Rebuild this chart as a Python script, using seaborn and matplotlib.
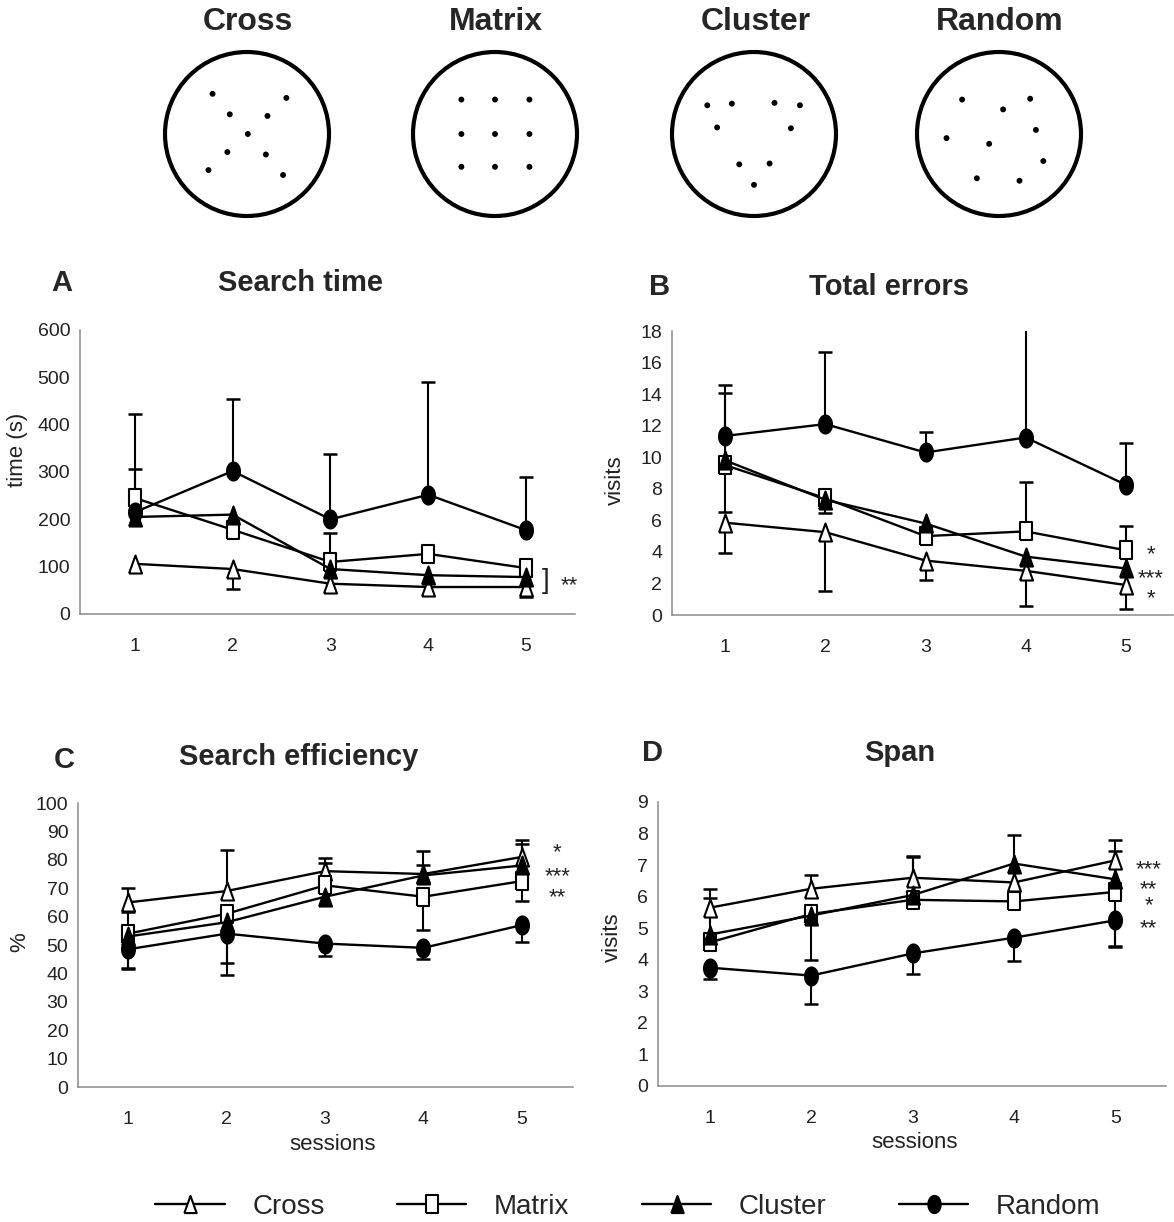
import numpy as np
import pandas as pd
import matplotlib
matplotlib.use("Agg")
import matplotlib.pyplot as plt
from matplotlib.patches import Circle
import seaborn as sns

sessions = [1, 2, 3, 4, 5]
groups = ["Cross", "Matrix", "Cluster", "Random"]

# search time (s): means, upper and lower error bars
time_mean = {"Cross": [106, 95, 64, 57, 57],
             "Matrix": [245, 178, 110, 127, 97],
             "Cluster": [205, 210, 95, 82, 78],
             "Random": [215, 302, 200, 252, 177]}
time_up = {"Cross": [0, 0, 0, 0, 0],
           "Matrix": [62, 0, 62, 0, 0],
           "Cluster": [0, 0, 0, 0, 0],
           "Random": [208, 153, 138, 238, 112]}
time_dn = {"Cross": [0, 42, 0, 0, 22],
           "Matrix": [0, 0, 0, 0, 0],
           "Cluster": [0, 0, 0, 0, 0],
           "Random": [0, 0, 0, 0, 0]}

# total errors (visits)
err_mean = {"Cross": [5.85, 5.25, 3.45, 2.8, 1.9],
            "Matrix": [9.5, 7.4, 5.0, 5.3, 4.1],
            "Cluster": [9.8, 7.3, 5.8, 3.7, 2.95],
            "Random": [11.35, 12.1, 10.3, 11.25, 8.25]}
err_up = {"Cross": [0, 0, 0, 0, 0],
          "Matrix": [0, 0, 0, 3.1, 1.55],
          "Cluster": [4.3, 0, 0, 0, 0],
          "Random": [3.25, 4.6, 1.3, 6.95, 2.65]}
err_dn = {"Cross": [1.95, 3.75, 1.25, 2.25, 1.55],
          "Matrix": [3.0, 0.95, 0, 0, 0],
          "Cluster": [0, 0, 0, 0, 0],
          "Random": [0, 0, 0, 0, 0]}

# search efficiency (%)
eff_mean = {"Cross": [65, 69, 76, 75, 81],
            "Matrix": [54, 61, 71, 67, 72.5],
            "Cluster": [53, 58, 67, 74.5, 78],
            "Random": [48.5, 54, 50.5, 49, 57]}
eff_up = {"Cross": [5, 14.5, 4.5, 8, 6],
          "Matrix": [7.5, 0, 0, 0, 0],
          "Cluster": [0, 0, 12, 3.5, 7.5],
          "Random": [0, 0, 0, 0, 0]}
eff_dn = {"Cross": [0, 0, 0, 0, 0],
          "Matrix": [12, 0, 0, 11.7, 7],
          "Cluster": [0, 14.5, 0, 0, 0],
          "Random": [7, 14.5, 4.5, 4, 6]}

# span (visits)
span_mean = {"Cross": [5.65, 6.25, 6.6, 6.45, 7.15],
             "Matrix": [4.55, 5.45, 5.9, 5.85, 6.15],
             "Cluster": [4.8, 5.4, 6.05, 7.05, 6.55],
             "Random": [3.75, 3.5, 4.2, 4.7, 5.25]}
span_up = {"Cross": [0.6, 0.45, 0.7, 0, 0.65],
           "Matrix": [0, 0, 0, 0, 0],
           "Cluster": [1.15, 0, 1.2, 0.9, 0.9],
           "Random": [0, 0, 0, 0, 0]}
span_dn = {"Cross": [0, 0, 0, 0, 0],
           "Matrix": [0, 1.45, 0, 0, 1.7],
           "Cluster": [0, 0, 0, 0, 0],
           "Random": [0.35, 0.9, 0.65, 0.75, 0.85]}

# significance marks at session 5: (label, y); stacked marks share one label
time_stars = [("**", 70)]
err_stars = [("*", 4.12), ("***", 2.6), ("*", 1.33)]
eff_stars = [("*", 84.2), ("***", 75.7), ("**", 68.3)]
span_stars = [("***", 7.03), ("**\n*", 6.12), ("**", 5.16)]

# dot patterns in the arenas (unit circle coordinates)
cross_x = [-0.42, 0.48, -0.21, 0.25, 0.01, -0.24, 0.23, -0.47, 0.44]
cross_y = [0.49, 0.44, 0.24, 0.22, 0.0, -0.22, -0.25, -0.44, -0.50]
matrix_x = [-0.41, 0.0, 0.42, -0.41, 0.0, 0.42, -0.41, 0.0, 0.42]
matrix_y = [0.42, 0.42, 0.42, 0.0, 0.0, 0.0, -0.40, -0.40, -0.40]
cluster_x = [-0.57, -0.27, 0.25, 0.56, -0.45, 0.45, -0.18, 0.19, 0.0]
cluster_y = [0.35, 0.37, 0.38, 0.35, 0.08, 0.07, -0.37, -0.36, -0.62]
random_x = [-0.45, 0.38, 0.05, 0.45, -0.64, -0.12, 0.54, -0.27, 0.25]
random_y = [0.42, 0.43, 0.30, 0.05, -0.05, -0.12, -0.33, -0.54, -0.57]

sns.set_style("white")
plt.rcParams['font.family'] = ['Liberation Sans', 'DejaVu Sans']

W, H = 1174, 1222
fig = plt.figure(figsize=(W / 100, H / 100), dpi=100)


def fx(px):
    return px / W


def fy(py):
    return 1 - py / H


# tall marker shapes (the original figure is slightly stretched), closed paths
t = np.linspace(0, 2 * np.pi, 41)
tri = [(-0.72, -1), (0.72, -1), (0, 1), (-0.72, -1)]
sq = [(-0.7, -1), (0.7, -1), (0.7, 1), (-0.7, 1), (-0.7, -1)]
ell = list(zip(0.72 * np.cos(t), np.sin(t)))
styles = {"Cross": (tri, "white"), "Matrix": (sq, "white"),
          "Cluster": (tri, "black"), "Random": (ell, "black")}

# --- arena drawings on top
patterns = [("Cross", cross_x, cross_y, 247, 248),
            ("Matrix", matrix_x, matrix_y, 495, 496),
            ("Cluster", cluster_x, cluster_y, 754, 756),
            ("Random", random_x, random_y, 999, 1000)]
for name, dx, dy, cx, tx in patterns:
    ax = fig.add_axes([fx(cx - 95), fy(134 + 95), 190 / W, 190 / H])
    ax.add_patch(Circle((0, 0), 1, fill=False, lw=3, ec="black"))
    sns.scatterplot(x=dx, y=dy, ax=ax, color="black", s=18, edgecolor="none")
    ax.set_xlim(-95 / 82, 95 / 82)
    ax.set_ylim(-95 / 82, 95 / 82)
    ax.axis("off")
    fig.text(fx(tx), fy(22), name, ha="center", va="center",
             fontsize=23, fontweight="bold")


def panel(rect, xlim, ylim, yticks, mean, up, dn, stars, star_x, ylabel,
          ylabel_pos, letter, letter_pos, title, title_pos, xlabel=None):
    l, r, b, tp = rect
    ax = fig.add_axes([fx(l), fy(b), (r - l) / W, (b - tp) / H])
    x = np.array(sessions)
    for g in groups:
        m = np.array(mean[g], dtype=float)
        u = np.array(up[g], dtype=float)
        d = np.array(dn[g], dtype=float)
        k = (u > 0) | (d > 0)
        ax.vlines(x[k], (m - d)[k], (m + u)[k], color="black", lw=1.5, zorder=2)
        ax.plot(x[u > 0], (m + u)[u > 0], ls="none", marker="_", ms=10,
                mew=1.8, color="black", zorder=2)
        ax.plot(x[d > 0], (m - d)[d > 0], ls="none", marker="_", ms=10,
                mew=1.8, color="black", zorder=2)
    for g in groups:
        mk, fc = styles[g]
        df = pd.DataFrame({"session": sessions, "value": mean[g]})
        sns.lineplot(data=df, x="session", y="value", ax=ax, color="black",
                     lw=1.7, marker=mk, markersize=13, markerfacecolor=fc,
                     markeredgecolor="black", markeredgewidth=1.5,
                     label=g, legend=False, zorder=3)
    ax.set_xlim(*xlim)
    ax.set_ylim(*ylim)
    ax.set_xticks(sessions)
    ax.set_yticks(yticks)
    ax.set_xlabel("")
    ax.set_ylabel("")
    for s in ["top", "right"]:
        ax.spines[s].set_visible(False)
    for s in ["left", "bottom"]:
        ax.spines[s].set_color("#8a8a8a")
        ax.spines[s].set_linewidth(1.1)
    ax.tick_params(axis="both", direction="out", length=5, width=1,
                   color="#8a8a8a", labelsize=14, labelcolor="#222222")
    ax.tick_params(axis="y", pad=2)
    ax.tick_params(axis="x", pad=12)
    for lab, yv, in stars:
        ax.annotate(lab, xy=(star_x, yv), xytext=(0, -3.7),
                    textcoords="offset points", ha="center", va="center",
                    fontsize=16, color="#222222", linespacing=0.68,
                    multialignment="center", annotation_clip=False)
    fig.text(fx(ylabel_pos[0]), fy(ylabel_pos[1]), ylabel, rotation=90,
             ha="center", va="center", fontsize=16, color="#222222")
    fig.text(fx(letter_pos[0]), fy(letter_pos[1]), letter, ha="center",
             va="center", fontsize=21, fontweight="bold")
    fig.text(fx(title_pos[0]), fy(title_pos[1]), title, ha="center",
             va="center", fontsize=21, fontweight="bold")
    if xlabel:
        fig.text(fx(xlabel[1]), fy(xlabel[2]), xlabel[0], ha="center",
                 va="center", fontsize=16, color="#222222")
    return ax


axA = panel((80, 575, 614, 330), (0.44, 5.5), (0, 600), range(0, 601, 100),
            time_mean, time_up, time_dn, time_stars, 5.44, "time (s)", (18, 450),
            "A", (62, 283), "Search time", (301, 283))
axA.annotate("]", xy=(5.2, 70), xytext=(0, 0), textcoords="offset points",
             ha="center", va="center", fontsize=20, color="#222222")

panel((672, 1173, 615, 331), (0.47, 5.47), (0, 18), range(0, 19, 2),
      err_mean, err_up, err_dn, err_stars, 5.25, "visits", (615, 480),
      "B", (660, 287), "Total errors", (889, 287))

panel((78, 573, 1087, 803), (0.49, 5.52), (0, 100), range(0, 101, 10),
      eff_mean, eff_up, eff_dn, eff_stars, 5.36, "%", (20, 942),
      "C", (64, 760), "Search efficiency", (299, 757),
      xlabel=("sessions", 333, 1145))

panel((658, 1166, 1086, 802), (0.49, 5.5), (0, 9), range(0, 10),
      span_mean, span_up, span_dn, span_stars, 5.33, "visits", (612, 937),
      "D", (652, 753), "Span", (900, 753),
      xlabel=("sessions", 915, 1142))

handles = [h for h in axA.get_lines() if h.get_label() in groups]
fig.legend(handles=handles, labels=[h.get_label() for h in handles],
           loc="center", bbox_to_anchor=(fx(628), fy(1207)), ncol=4,
           frameon=False, fontsize=20, handlelength=2.5, handletextpad=1.0,
           columnspacing=2.6, markerscale=0.95)

fig.savefig("out.png", dpi=100)
